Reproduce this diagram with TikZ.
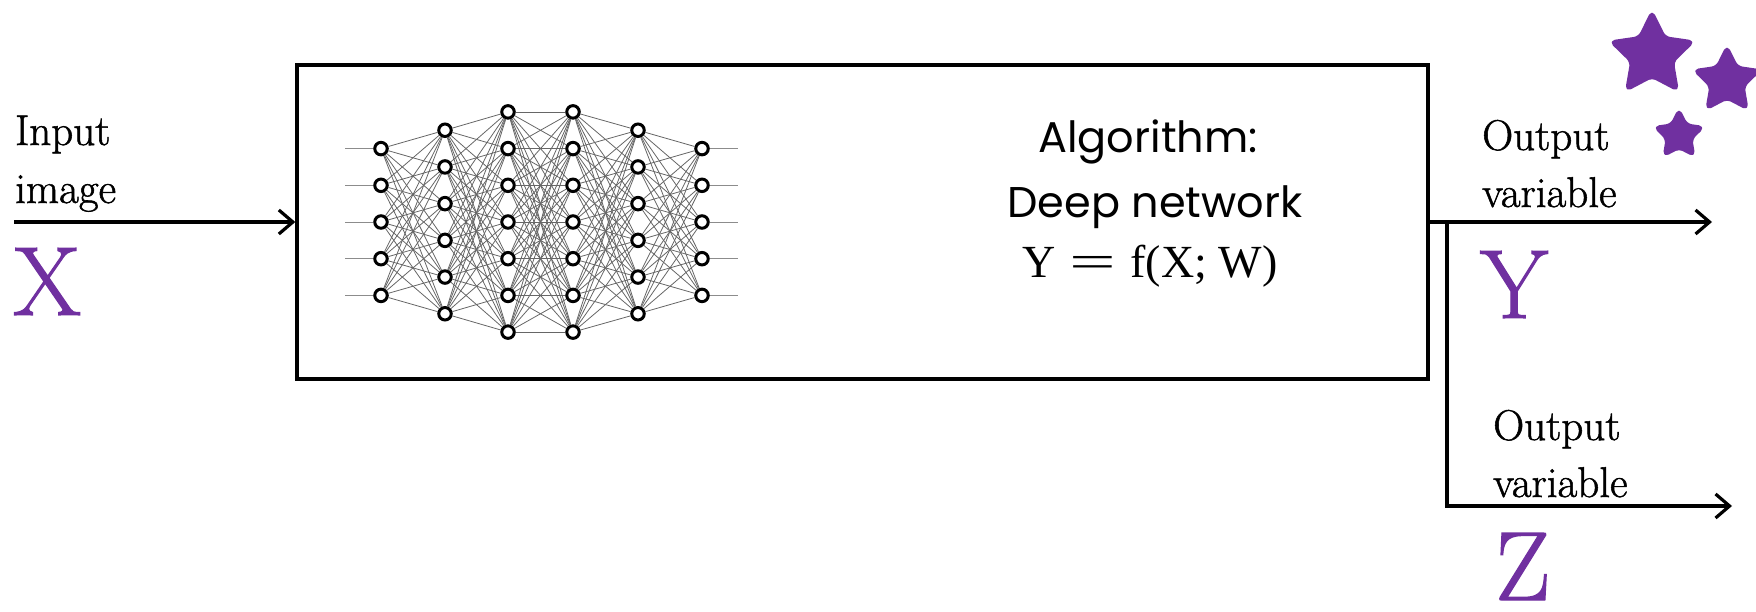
\documentclass[tikz,border=0pt]{standalone}
\usepackage{fontspec}
\usepackage{graphicx}
\newfontfamily\algfont{Poppins}
\newfontfamily\eqfont{Liberation Serif}
\newfontfamily\labfont[RawFeature={embolden=1.2}]{Latin Modern Roman}
\usetikzlibrary{arrows.meta,shapes.geometric}
\definecolor{vpurple}{HTML}{7030A0}
\begin{document}
\begin{tikzpicture}[x=1pt,y=-1pt,
  lbl/.style={anchor=base west,inner sep=0pt,font=\labfont\fontsize{43}{50}\selectfont},
  bigvar/.style={anchor=base west,inner sep=0pt,text=vpurple,font=\labfont\fontsize{98}{100}\selectfont},
  algtxt/.style={anchor=base,inner sep=0pt,font=\algfont\fontsize{43}{50}\selectfont},
  eqtxt/.style={anchor=base,inner sep=0pt,font=\eqfont\fontsize{46}{50}\selectfont},
  neuron/.style={circle,draw=black,fill=white,line width=3pt,minimum size=12.5pt,inner sep=0pt},
  synapse/.style={draw=black!60,line width=0.8pt},
  stub/.style={draw=black!45,line width=1pt},
  flow/.style={line width=3.2pt,-{Straight Barb[length=14pt,width=24pt]}},
  algobox/.style={draw,line width=3.4pt,rectangle,minimum width=1131pt,minimum height=314pt,inner sep=0pt},
  starshape/.style={star,star points=5,star point ratio=2.0,fill=vpurple,draw=vpurple,line width=2pt,line join=round,rounded corners=5pt,inner sep=0pt}
]
\useasboundingbox (0,0) rectangle (1756,611);

% main box
\node[algobox] (algo) at (862.5,222) {};

% neural network
\foreach \l/\x/\n in {1/381/5,2/445/6,3/508/7,4/573/7,5/638/6,6/702/5} {
  \foreach \i in {1,...,\n} {
    \node[neuron] (n-\l-\i) at (\x,{222+(\i-(\n+1)/2)*36.7}) {};
  }
}
\foreach \l/\m/\a/\b in {1/2/5/6,2/3/6/7,3/4/7/7,4/5/7/6,5/6/6/5} {
  \foreach \i in {1,...,\a} {
    \foreach \j in {1,...,\b} {
      \draw[synapse] (n-\l-\i) -- (n-\m-\j);
    }
  }
}
\foreach \i in {1,...,5} {
  \coordinate (sin-\i) at (345,{222+(\i-3)*36.7});
  \coordinate (sout-\i) at (738,{222+(\i-3)*36.7});
  \draw[stub] (sin-\i) -- (n-1-\i);
  \draw[stub] (n-6-\i) -- (sout-\i);
}

% box text
\node[algtxt] (alg1) at (1148,152) {Algorithm:};
\node[algtxt] (alg2) at (1155,217) {Deep network};
\node[eqtxt] (eq) at (1150,277) {Y\hspace{14pt}\scalebox{1.8}[1]{=}\hspace{14pt}f(X;\ W)};

% connectors
\coordinate (inS) at (14,222);
\coordinate (outY) at (1712,222);
\coordinate (branch) at (1447,222);
\coordinate (outZ) at (1732,506);
\draw[flow] (inS) -- (algo.west);
\draw[flow] (algo.east) -- (outY);
\draw[flow] (branch) |- (outZ);

% labels
\node[lbl] (in1) at (15,145) {Input};
\node[lbl] (in2) at (15,203) {image};
\node[bigvar] (X) at (13,315) {X};
\node[lbl] (oy1) at (1482,150) {Output};
\node[lbl] (oy2) at (1482,207) {variable};
\node[bigvar] (Y) at (1480,318) {Y};
\node[lbl] (oz1) at (1493,440) {Output};
\node[lbl] (oz2) at (1493,497) {variable};
\node[bigvar] (Z) at (1495,600) {Z};

% stars
\node[starshape,minimum size=88pt] (star1) at (1652,55) {};
\node[starshape,minimum size=70pt] (star2) at (1727,81) {};
\node[starshape,minimum size=52pt] (star3) at (1679,135) {};
\end{tikzpicture}
\end{document}
